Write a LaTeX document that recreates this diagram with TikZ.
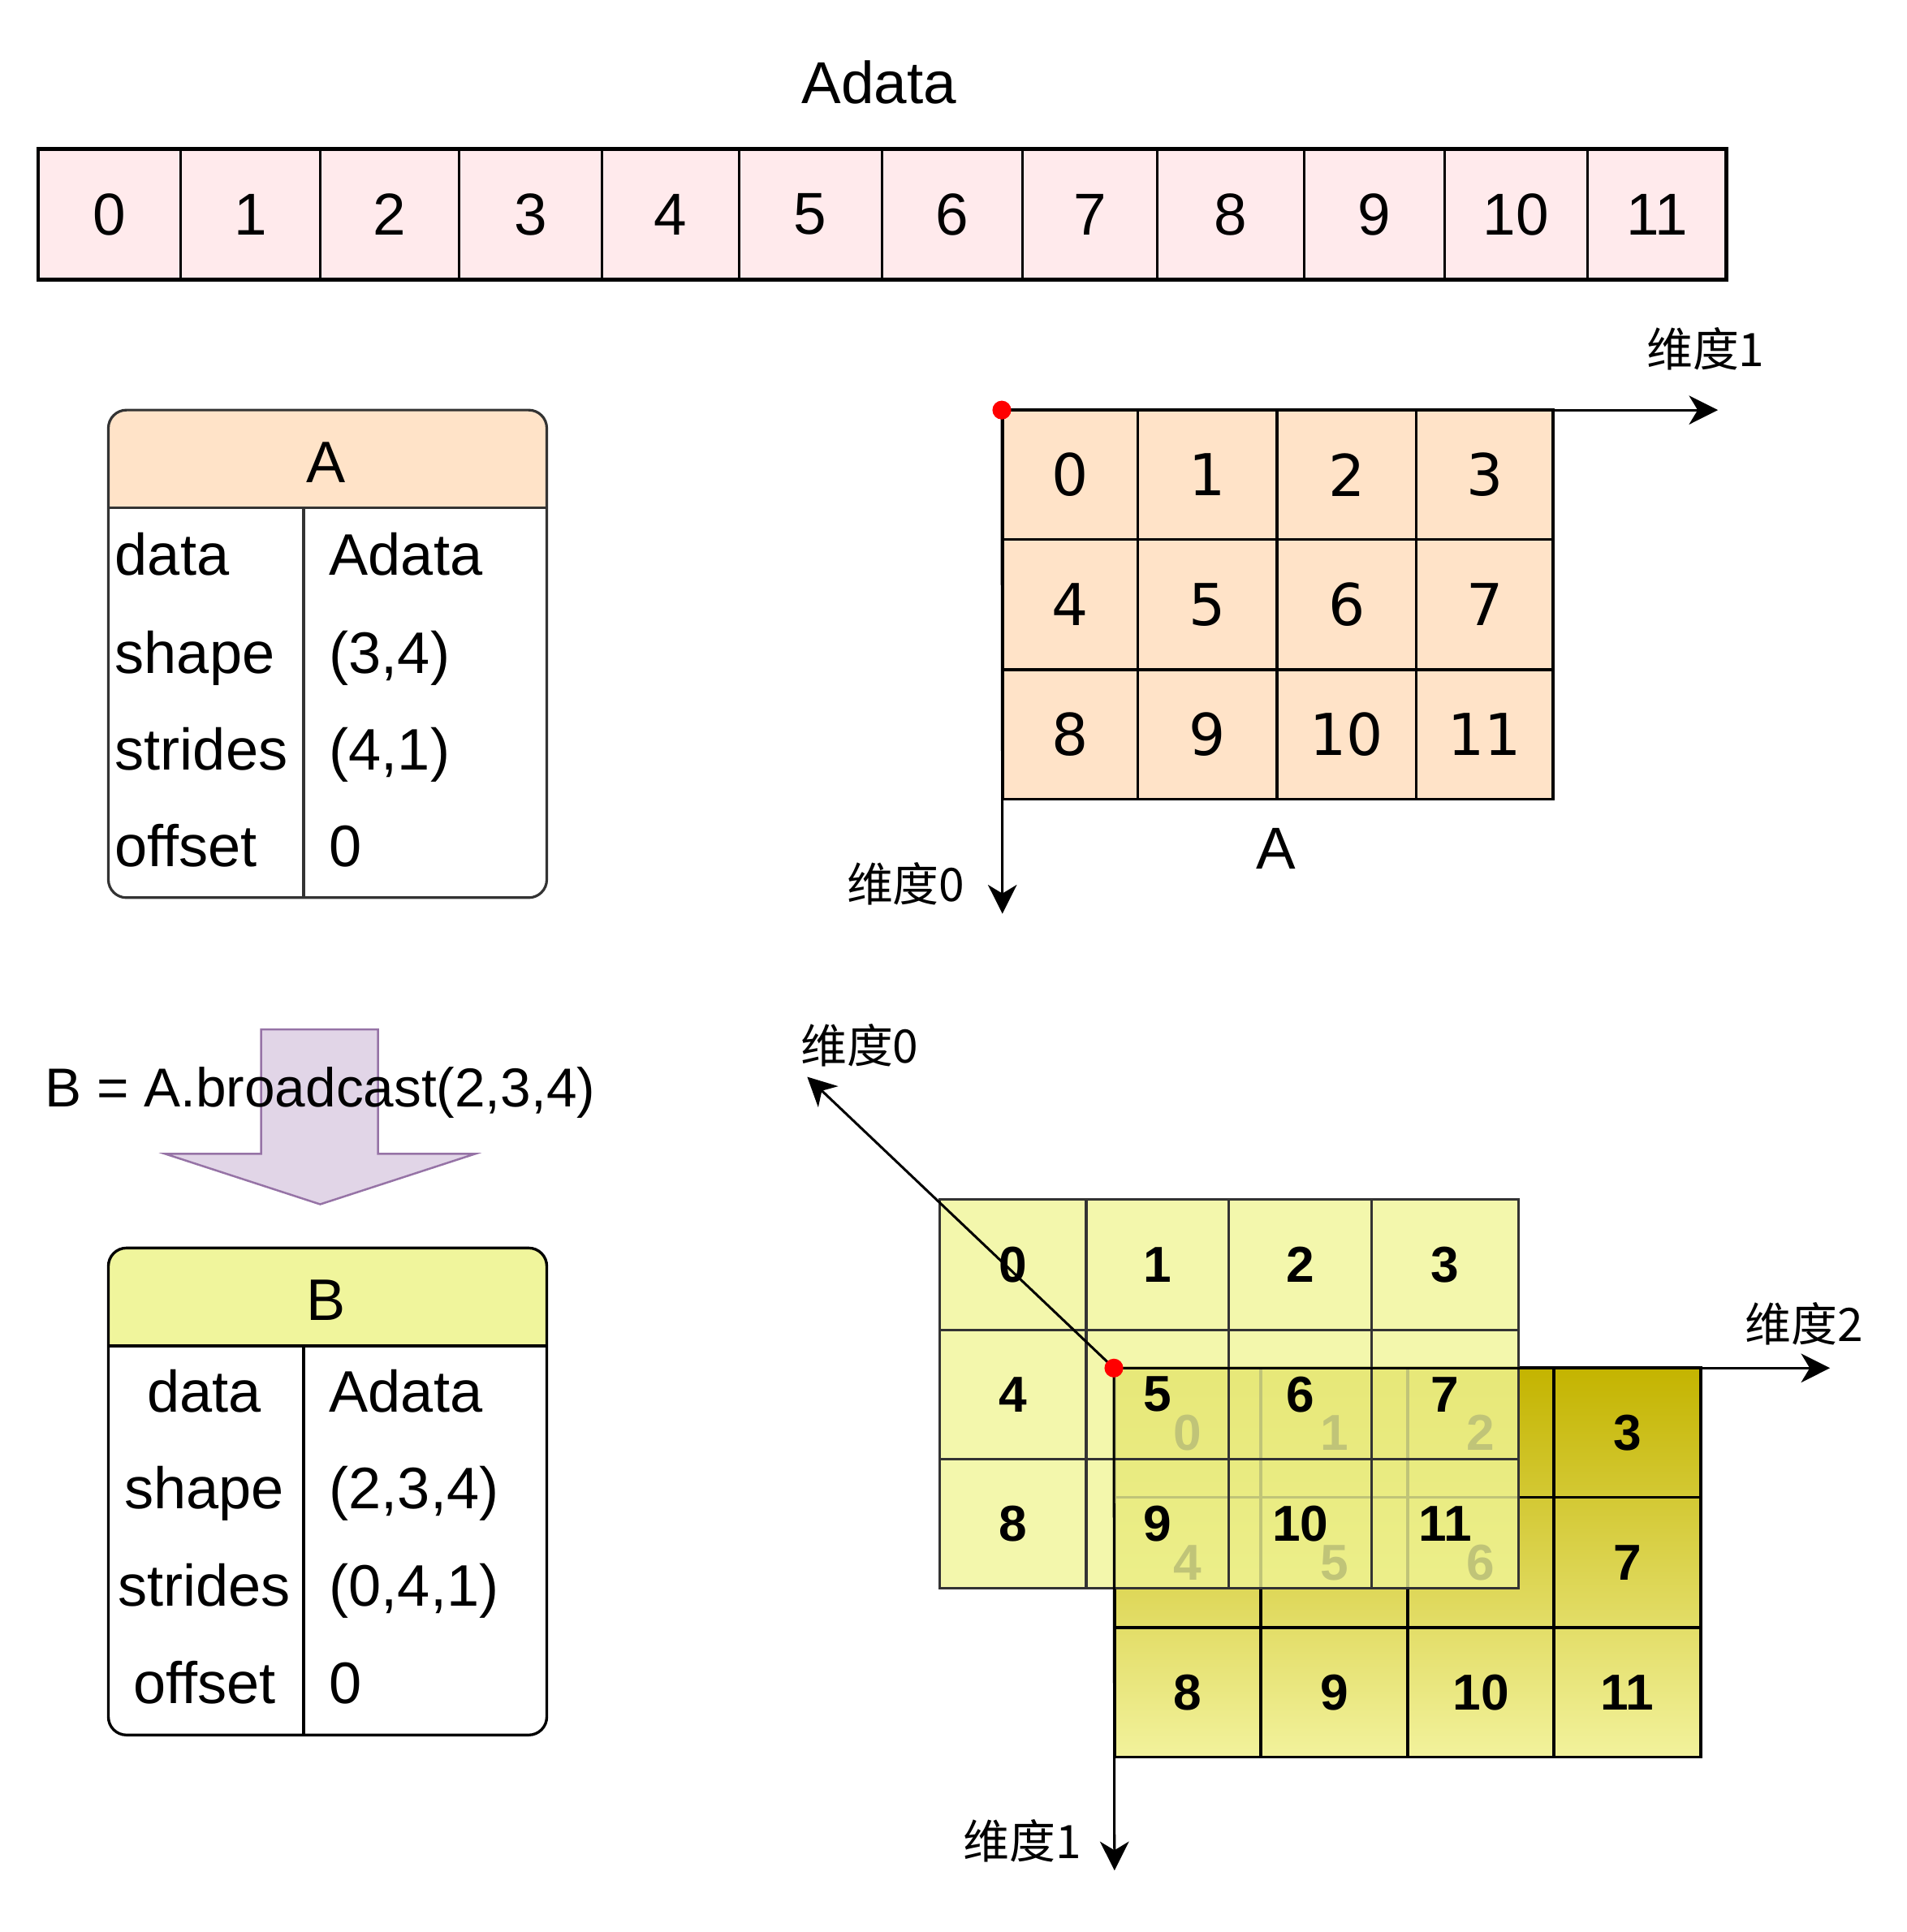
\documentclass[tikz,border=0pt]{standalone}
\usepackage{fontspec}
\setmainfont{Liberation Sans}
\newfontfamily\dejavu{DejaVu Sans}
\newfontfamily\cjk{Noto Sans CJK SC}
\usetikzlibrary{arrows.meta}
\definecolor{pinkfill}{HTML}{FFEAEC}
\definecolor{peach}{HTML}{FFE3C8}
\definecolor{yelhead}{HTML}{F0F59C}
\definecolor{purplefill}{HTML}{E1D5E7}
\definecolor{purpleline}{HTML}{9673A6}
\definecolor{backyel}{HTML}{F0F597}
\definecolor{goldtop}{HTML}{C4B400}
\definecolor{goldbot}{HTML}{F2F29C}
\definecolor{boxline}{HTML}{333333}
\begin{document}
\begin{tikzpicture}[x=0.015cm,y=-0.015cm,
  arrnum/.style={font=\fontsize{20.5}{24}\selectfont, inner sep=0pt},
  boxtxt/.style={font=\fontsize{20.3}{24}\selectfont, inner sep=0pt, anchor=base west},
  boxtxtc/.style={font=\fontsize{20.3}{24}\selectfont, inner sep=0pt, anchor=base},
  gnum/.style={font=\dejavu\fontsize{20}{24}\selectfont, inner sep=0pt},
  bnum/.style={font=\bfseries\fontsize{17.5}{21}\selectfont, inner sep=0pt},
  dimlbl/.style={font=\cjk\fontsize{16}{19}\selectfont, inner sep=0pt},
  thinline/.style={line width=0.85pt, draw=black},
  gridline/.style={line width=1.05pt, draw=black},
  thickline/.style={line width=1.3pt, draw=black},
  boxborder/.style={line width=0.9pt, draw=boxline},
  axisarrow/.style={line width=0.85pt, draw=black, -{Stealth[length=10pt,width=10pt,inset=3pt]}},
  reddot/.style={circle, fill=red, inner sep=0pt, minimum size=6.5pt}
]
\useasboundingbox (0,0) rectangle (1548,1569);

% ---------- top array Adata ----------
\node[arrnum, anchor=base] (adatatitle) at (714,84) {Adata};
\fill[pinkfill] (31,121) rectangle (1402,227);
\foreach \xx in {147,260,373,489,600,716,830,940,1059,1173,1289}
  \draw[thinline] (\xx,121) -- (\xx,227);
\draw[thickline] (31,121) rectangle (1402,227);
\foreach \a/\b [count=\i from 0] in {31/147,147/260,260/373,373/489,489/600,600/716,716/830,830/940,940/1059,1059/1173,1173/1289,1289/1402}
  \node[arrnum] (arr\i) at ({(\a+\b)/2},174) {\i};

% ---------- box A ----------
\fill[white, rounded corners=0.22cm] (88,333) rectangle (444,729);
\begin{scope}
  \clip[rounded corners=0.22cm] (88,333) rectangle (444,729);
  \fill[peach] (88,333) rectangle (444,412.5);
\end{scope}
\draw[boxborder] (88,412.5) -- (444,412.5);
\draw[boxborder] (246.5,412.5) -- (246.5,729);
\draw[boxborder, rounded corners=0.22cm] (88,333) rectangle (444,729);
\node[boxtxtc] (Ahead) at (265,392) {A};
\node[boxtxt] (Ak1) at (93,467) {data};
\node[boxtxt] (Ak2) at (93,547) {shape};
\node[boxtxt] (Ak3) at (93,625) {strides};
\node[boxtxt] (Ak4) at (93,704) {offset};
\node[boxtxt] (Av1) at (267,467) {Adata};
\node[boxtxt] (Av2) at (267,547) {(3,4)};
\node[boxtxt] (Av3) at (267,625) {(4,1)};
\node[boxtxt] (Av4) at (267,704) {0};

% ---------- grid A ----------
\fill[peach] (814,333) rectangle (1261,649);
\foreach \xx in {924,1037,1150} \draw[gridline] (\xx,333) -- (\xx,649);
\foreach \yy in {438,544} \draw[gridline] (814,\yy) -- (1261,\yy);
\draw[gridline] (814,333) rectangle (1261,649);
\foreach \yy [count=\r from 0] in {385.5,491,596.5}
  \foreach \xx [count=\c from 0] in {869,980.5,1093.5,1205.5} {
    \pgfmathtruncatemacro\n{4*\r+\c}
    \node[gnum] (ga\n) at (\xx,\yy) {\n};
  }
\node[arrnum] (Alabel) at (1036,689) {A};
\coordinate (Aorig) at (813.5,333);
\coordinate (Ad1end) at (1395,333);
\coordinate (Ad0end) at (814,742);
\draw[axisarrow] (Aorig) -- (Ad1end);
\draw[axisarrow] (Aorig) -- (Ad0end);
\node[dimlbl] (Ad1lbl) at (1385,283) {维度1};
\node[dimlbl] (Ad0lbl) at (735.5,717.5) {维度0};
\node[reddot] (Adot) at (Aorig) {};

% ---------- broadcast arrow ----------
\filldraw[fill=purplefill, draw=purpleline, line width=0.7pt]
  (212,836) -- (307,836) -- (307,937) -- (386,937) -- (260,978) -- (134,937) -- (212,937) -- cycle;
\node[font=\fontsize{19}{23}\selectfont, inner sep=0pt, anchor=base] (bcast) at (260,899) {B = A.broadcast(2,3,4)};

% ---------- box B ----------
\fill[white, rounded corners=0.22cm] (88,1013.5) rectangle (444,1409);
\begin{scope}
  \clip[rounded corners=0.22cm] (88,1013.5) rectangle (444,1409);
  \fill[yelhead] (88,1013.5) rectangle (444,1093);
\end{scope}
\draw[line width=0.95pt] (88,1093) -- (444,1093);
\draw[line width=0.95pt] (246.5,1093) -- (246.5,1409);
\draw[line width=0.95pt, rounded corners=0.22cm] (88,1013.5) rectangle (444,1409);
\node[boxtxtc] (Bhead) at (265,1072.5) {B};
\node[boxtxtc] (Bk1) at (166,1146.5) {data};
\node[boxtxtc] (Bk2) at (166,1225.5) {shape};
\node[boxtxtc] (Bk3) at (166,1304.5) {strides};
\node[boxtxtc] (Bk4) at (166,1383.5) {offset};
\node[boxtxt] (Bv1) at (267,1146.5) {Adata};
\node[boxtxt] (Bv2) at (267,1225.5) {(2,3,4)};
\node[boxtxt] (Bv3) at (267,1304.5) {(0,4,1)};
\node[boxtxt] (Bv4) at (267,1383.5) {0};

% ---------- 3D grid: layer behind (drawn first) ----------
\shade[top color=goldtop, bottom color=goldbot] (905,1111) rectangle (1381,1427);
\foreach \xx in {1024,1143,1262} \draw[line width=1.05pt] (\xx,1111) -- (\xx,1427);
\foreach \yy in {1216,1322} \draw[line width=1.05pt] (905,\yy) -- (1381,\yy);
\draw[line width=1.05pt] (905,1111) rectangle (1381,1427);
\foreach \yy [count=\r from 0] in {1163.5,1269,1374.5}
  \foreach \xx [count=\c from 0] in {964.5,1083.5,1202.5,1321.5} {
    \pgfmathtruncatemacro\n{4*\r+\c}
    \node[bnum] (fb\n) at (\xx,\yy) {\n};
  }

% ---------- 3D grid: translucent layer on top ----------
\fill[backyel, fill opacity=0.8] (763,974) rectangle (1233,1290);
\foreach \xx in {882,998,1114} \draw[line width=0.9pt, draw=boxline] (\xx,974) -- (\xx,1290);
\foreach \yy in {1080,1185} \draw[line width=0.9pt, draw=boxline] (763,\yy) -- (1233,\yy);
\draw[line width=0.9pt, draw=boxline] (763,974) rectangle (1233,1290);
\foreach \yy [count=\r from 0] in {1027,1132.5,1237.5}
  \foreach \xx [count=\c from 0] in {822.5,940,1056,1173.5} {
    \pgfmathtruncatemacro\n{4*\r+\c}
    \node[bnum] (bk\n) at (\xx,\yy) {\n};
  }

% ---------- 3D axes ----------
\coordinate (Borig) at (904.5,1111);
\coordinate (Bd0end) at (655.5,874.5);
\coordinate (Bd2end) at (1486,1111);
\coordinate (Bd1end) at (905,1519);
\draw[axisarrow] (Borig) -- (Bd0end);
\draw[axisarrow] (Borig) -- (Bd2end);
\draw[axisarrow] (Borig) -- (Bd1end);
\node[dimlbl] (Bd0lbl) at (698,849) {维度0};
\node[dimlbl] (Bd2lbl) at (1465,1075) {维度2};
\node[dimlbl] (Bd1lbl) at (830,1495) {维度1};
\node[reddot] (Bdot) at (Borig) {};
\end{tikzpicture}
\end{document}
